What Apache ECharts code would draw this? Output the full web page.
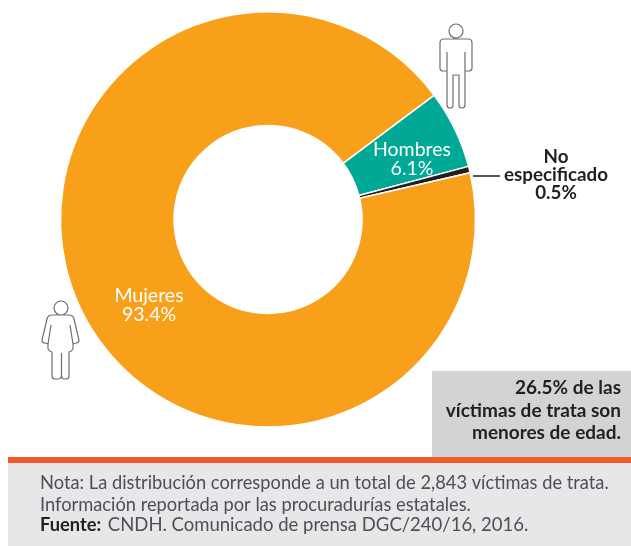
<!DOCTYPE html>
<html><head><meta charset="utf-8">
<style>html,body{margin:0;padding:0;background:#fff}#c{width:631px;height:546px}</style>
<script src="https://cdn.jsdelivr.net/npm/echarts@6/dist/echarts.min.js"></script>
</head><body><div id="c"></div>
<script>
const categories = ['Hombres', 'No\nespecificado', 'Mujeres'];
const values = [6.1, 0.5, 93.4];
const colors = ['#00A896', '#231F20', '#F9A01B'];
const note = ['Nota: La distribución corresponde a un total de 2,843 víctimas de trata.', 'Información reportada por las procuradurías estatales.'];
const source = ['Fuente:', 'CNDH. Comunicado de prensa DGC/240/16, 2016.'];
const callout = ['26.5% de las', 'víctimas de trata son', 'menores de edad.'];

const FONT = 'Lato';
const man = 'M16 0a7 7 0 1 0 .01 0z M4 15H28Q32 15 32 19V44Q32 47 29 47H25V81Q25 84 22 84H21Q19 84 19 81V51H13V81Q13 84 11 84H10Q7 84 7 81V47H3Q0 47 0 44V19Q0 15 4 15Z M7 47V28 M25 47V28';
const woman = 'M19 0a7 7 0 1 0 .01 0z M10 14H27Q31 14 32 18L37 39Q37 42 34 42L31 43L31 48Q29 51 27 51V75Q27 78 24 78H22Q20 78 19.5 75V52V75Q19 78 16 78H13Q10 78 10 75V51Q8 51 6 48L6 43L3 42Q0 42 0 39L5 18Q6 14 10 14Z M28 24L31 43 M9 24L6 43';
echarts.graphic.registerShape('manIcon', echarts.graphic.extendPath(man, {}));
echarts.graphic.registerShape('womanIcon', echarts.graphic.extendPath(woman, {}));
const iconStyle = { fill: '#fff', stroke: '#6d6e71', lineWidth: 1.2 };

const chart = echarts.init(document.getElementById('c'), null, { renderer: 'canvas' });
chart.setOption({
  animation: false,
  textStyle: { fontFamily: FONT },
  color: colors,
  series: [{
    type: 'pie',
    center: [268, 219.5],
    radius: [94, 207.5],
    startAngle: 36.8,
    clockwise: true,
    silent: true,
    itemStyle: { borderColor: '#fff', borderWidth: 1.5 },
    label: { show: true, position: 'inside', color: '#fff', fontFamily: FONT, fontSize: 19.5, lineHeight: 19, formatter: p => p.name + '\n' + p.value + '%' },
    labelLine: { show: false },
    labelLayout: p => p.dataIndex === 0 ? { x: 412, y: 159.5 } : p.dataIndex === 2 ? { x: 149, y: 305 } : { x: 556, y: 175 },
    data: categories.map((name, i) => ({
      name, value: values[i],
      label: i === 1 ? { color: '#231F20', fontWeight: 'bold', fontSize: 18.8, lineHeight: 18 } : {}
    }))
  }],
  graphic: [
    { type: 'line', shape: { x1: 473, y1: 176, x2: 500, y2: 176 }, style: { stroke: '#231F20', lineWidth: 1.5 } },
    { type: 'manIcon', x: 440, y: 24, style: iconStyle },
    { type: 'womanIcon', x: 42, y: 301, style: iconStyle },
    { type: 'rect', shape: { x: 432, y: 371, width: 199, height: 87 }, style: { fill: '#D1D3D4' } },
    { type: 'text', style: { x: 621, y: 377, text: callout.join('\n'), align: 'right', verticalAlign: 'top', font: 'bold 19px Lato', lineHeight: 22.5, fill: '#231F20' } },
    { type: 'rect', shape: { x: 8, y: 463, width: 623, height: 83 }, style: { fill: '#E6E7E8' } },
    { type: 'rect', shape: { x: 8, y: 457, width: 623, height: 6 }, style: { fill: '#F15A29' } },
    { type: 'text', style: { x: 40, y: 472, text: note.join('\n'), align: 'left', verticalAlign: 'top', font: '18.3px Lato', lineHeight: 22, fill: '#4d4f53' } },
    { type: 'text', style: { x: 40, y: 516, text: '{b|' + source[0] + '}  {r|' + source[1] + '}', align: 'left', verticalAlign: 'top',
      rich: { b: { font: 'bold 18.3px Lato', fill: '#231F20' }, r: { font: '18.5px Lato', fill: '#4d4f53' } } } }
  ]
});
</script></body></html>
